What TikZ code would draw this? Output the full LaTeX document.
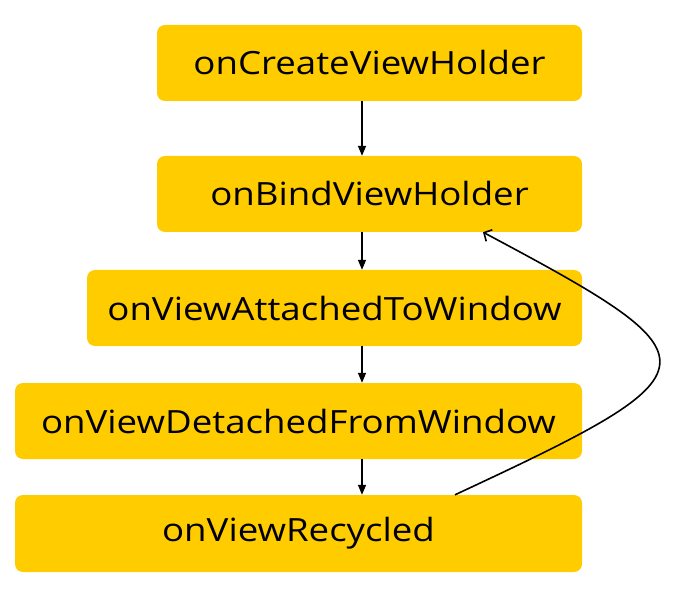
\documentclass[tikz,border=0pt]{standalone}
\usepackage{fontspec}
\setmainfont{Open Sans}[FakeStretch=1.145]
\usetikzlibrary{arrows.meta}
\definecolor{boxyellow}{HTML}{FFCC00}
\begin{document}
\begin{tikzpicture}[x=1pt,y=1pt,
  box/.style={fill=boxyellow, rounded corners=8pt, inner sep=0pt, font=\fontsize{32}{38}\selectfont},
  flow/.style={-{Triangle[length=10pt,width=8pt]}, line width=1.5pt},
  back/.style={-{Straight Barb[length=6pt,width=13pt]}, line width=1.6pt}]
\useasboundingbox (0,0) rectangle (682,595);
\node[box, minimum width=425pt, minimum height=76pt] (b1) at (369.5,532) {onCreateViewHolder};
\node[box, minimum width=425pt, minimum height=76pt] (b2) at (369.5,401) {onBindViewHolder};
\node[box, minimum width=495pt, minimum height=76pt] (b3) at (334.5,287) {onViewAttachedToWindow};
\node[box, minimum width=567pt, minimum height=76pt] (b4) at (298.5,174) {onViewDetachedFromWindow};
\node[box, minimum width=567pt, minimum height=77pt] (b5) at (298.5,61.5) {onViewRecycled};
\coordinate (ax) at (362,0);
\draw[flow] (b1.south -| ax) -- (b2.north -| ax);
\draw[flow] (b2.south -| ax) -- (b3.north -| ax);
\draw[flow] (b3.south -| ax) -- (b4.north -| ax);
\draw[flow] (b4.south -| ax) -- (b5.north -| ax);
\coordinate (cs) at (455,0);
\coordinate (ce) at (483,0);
\draw[back] (b5.north -| cs) .. controls (723,225) and (723,235) .. (b2.south -| ce);
\end{tikzpicture}
\end{document}
